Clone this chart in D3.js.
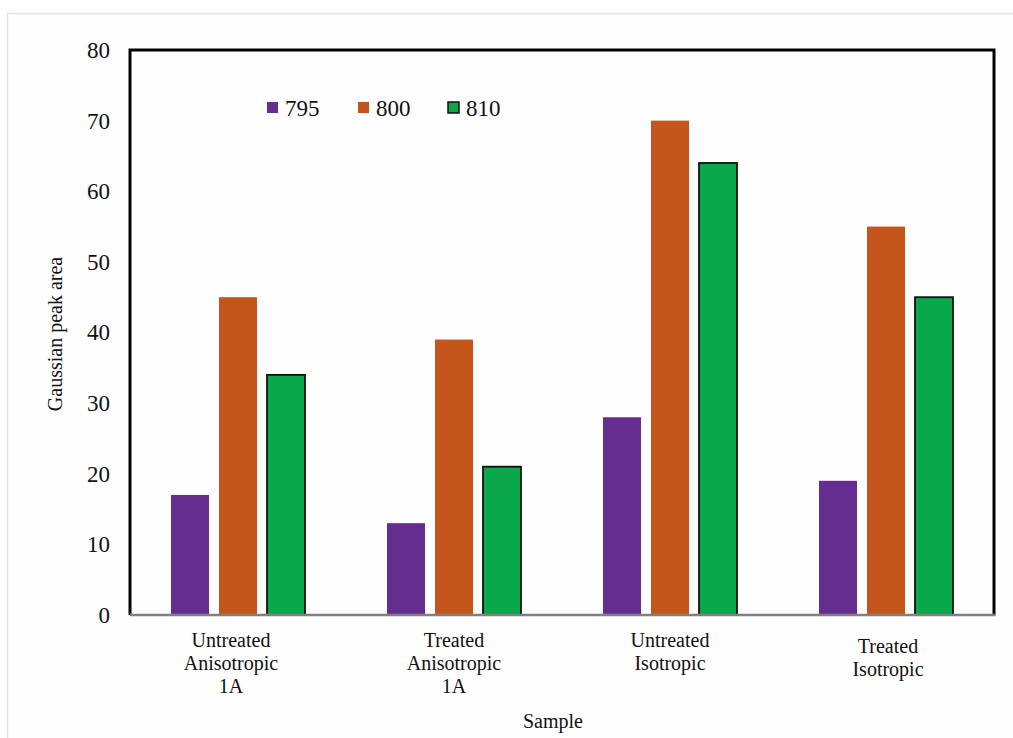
<!DOCTYPE html>
<html><head><meta charset="utf-8">
<script src="https://cdn.jsdelivr.net/npm/d3@7"></script>
<style>
html,body{margin:0;padding:0;background:#fff;}
svg{display:block;}
svg text{font-family:"Liberation Serif","Times New Roman",serif;}
</style></head>
<body>
<svg id="chart" width="1013" height="738"></svg>
<script>
const categories = [["Untreated","Anisotropic","1A"],["Treated","Anisotropic","1A"],["Untreated","Isotropic"],["Treated","Isotropic"]];
const seriesNames = ["795","800","810"];
const s795 = [17, 13, 28, 19];
const s800 = [45, 39, 70, 55];
const s810 = [34, 21, 64, 45];
const yTicks = [0,10,20,30,40,50,60,70,80];
const colors = ["#652D8F","#C4561C","#0AA84A"];
const strokes = ["none","none","#111"];

const svg = d3.select("#chart");
const W = 1013, H = 738;
const m = {left:130, top:50, right:994, bottom:615};

// outer faint frame
svg.append("rect").attr("x",7.5).attr("y",13.5).attr("width",W).attr("height",H)
  .attr("fill","#fefefe").attr("stroke","#e4e4e4").attr("stroke-width",1.5);

const x0 = d3.scaleBand().domain(d3.range(categories.length)).range([m.left,m.right]);
const x1 = d3.scaleBand().domain(d3.range(seriesNames.length)).range([0,134]).paddingInner(10/48).paddingOuter(0);
const y = d3.scaleLinear().domain([0,80]).range([m.bottom,m.top]);

const series = [s795,s800,s810];

// bars
categories.forEach((c,i)=>{
  const gx = x0(i) + x0.bandwidth()/2 - 67;
  series.forEach((s,j)=>{
    svg.append("rect")
      .attr("x", gx + x1(j))
      .attr("y", y(s[i]))
      .attr("width", x1.bandwidth())
      .attr("height", y(0)-y(s[i]))
      .attr("fill", colors[j])
      .attr("stroke", strokes[j])
      .attr("stroke-width", 1.8);
  });
});

// frame: top/left/right black, bottom grey
svg.append("path")
  .attr("d", `M${m.left},${m.bottom} L${m.left},${m.top} L${m.right},${m.top} L${m.right},${m.bottom}`)
  .attr("fill","none").attr("stroke","#000").attr("stroke-width",3);
svg.append("line").attr("x1",m.left).attr("x2",m.right+1.5).attr("y1",m.bottom).attr("y2",m.bottom)
  .attr("stroke","#808080").attr("stroke-width",2.5);

// y axis labels
const yAxis = d3.axisLeft(y).tickValues(yTicks).tickSize(0).tickPadding(20);
const ga = svg.append("g").attr("transform",`translate(${m.left},0)`).call(yAxis);
ga.attr("font-family",null);
ga.select(".domain").remove();
ga.selectAll("text").style("font-family","'Liberation Serif', serif").attr("font-size",23).attr("fill","#111");

// x labels
categories.forEach((lines,i)=>{
  const cx = x0(i)+x0.bandwidth()/2 + (i===0?-7:0) + (i===3?2:0);
  const by = 647 + (i===3?6:0);
  const t = svg.append("text").attr("text-anchor","middle").attr("font-size",20).attr("fill","#111");
  lines.forEach((l,k)=>{
    t.append("tspan").attr("x",cx).attr("y",by+k*23).text(l);
  });
});

// axis titles
svg.append("text").attr("x",553).attr("y",728).attr("text-anchor","middle").attr("font-size",20).attr("fill","#111").text("Sample");
svg.append("text").attr("transform","translate(62,334) rotate(-90)").attr("text-anchor","middle")
  .attr("font-size",20).attr("fill","#111").text("Gaussian peak area");

// legend
const legX = [267, 358, 448];
seriesNames.forEach((n,j)=>{
  svg.append("rect").attr("x",legX[j]).attr("y",102).attr("width",11).attr("height",11)
    .attr("fill",colors[j]).attr("stroke",strokes[j]).attr("stroke-width",1.5);
  svg.append("text").attr("x",legX[j]+18).attr("y",115.5).attr("font-size",23).attr("fill","#111").text(n);
});
</script>
</body></html>
